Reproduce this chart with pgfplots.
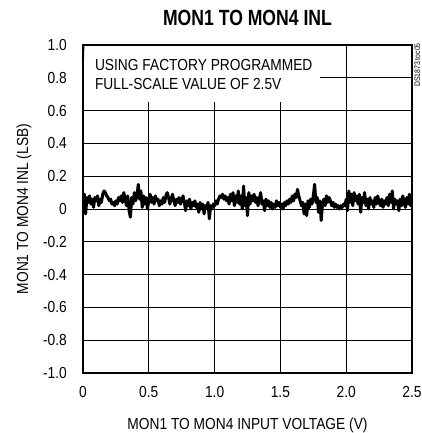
\documentclass[border=0pt]{standalone}
\usepackage{fontspec}
\setmainfont{Liberation Sans}[FakeStretch=0.86]
\newfontfamily\titlefont{Liberation Sans}[FakeStretch=0.8]
\usepackage{pgfplots}
\pgfplotsset{compat=1.18}
\newcommand\lblfont{\fontsize{16bp}{19bp}\selectfont}
\begin{document}
\begin{tikzpicture}
\begin{axis}[
  width=329bp, height=328bp, scale only axis,
  xmin=0, xmax=2.5, ymin=-1, ymax=1,
  xtick={0,0.5,1,1.5,2,2.5},
  xticklabels={0,0.5,1.0,1.5,2.0,2.5},
  ytick={-1,-0.8,-0.6,-0.4,-0.2,0,0.2,0.4,0.6,0.8,1},
  yticklabels={-1.0,-0.8,-0.6,-0.4,-0.2,0,0.2,0.4,0.6,0.8,1.0},
  grid=major, major grid style={black, line width=0.8bp},
  axis line style={line width=2.2bp},
  major tick length=4bp, tick style={black, line width=0.8bp},
  tick label style={font=\lblfont, inner sep=0pt},
  xticklabel style={anchor=base, yshift=-24bp},
  yticklabel style={anchor=east, xshift=-16bp},
]
\fill[white] ([xshift=1.1bp]axis cs:0,0.65) rectangle ([yshift=-1.1bp]axis cs:1.8,1);
\draw[black, line width=0.8bp] (axis cs:0.5,1) -- ++(0,-5bp) (axis cs:1,1) -- ++(0,-5bp) (axis cs:1.5,1) -- ++(0,-5bp) (axis cs:0,0.8) -- ++(5bp,0);
\addplot[black, line width=3bp, line join=round] coordinates {
(0.00,0.02)(0.01,0.09)(0.02,-0.03)(0.03,0.07)(0.04,0.04)(0.05,0.08)(0.06,0.03)(0.07,0.06)(0.08,0.01)(0.09,0.07)
(0.10,0.05)(0.11,0.08)(0.12,0.02)(0.13,0.06)(0.14,0.04)(0.15,0.09)(0.16,0.11)(0.17,0.10)(0.18,0.08)(0.19,0.07)
(0.20,0.05)(0.21,0.06)(0.22,0.03)(0.23,0.04)(0.24,0.02)(0.25,0.05)(0.26,0.03)(0.27,0.07)(0.28,0.05)(0.29,0.08)
(0.30,0.04)(0.31,0.10)(0.32,0.06)(0.33,0.02)(0.34,0.08)(0.35,-0.01)(0.36,-0.05)(0.37,0.07)(0.38,0.03)(0.39,0.10)
(0.40,0.05)(0.41,0.08)(0.42,0.15)(0.43,0.06)(0.44,0.11)(0.45,0.01)(0.46,0.08)(0.47,0.03)(0.48,0.07)(0.49,0.00)
(0.50,0.05)(0.51,0.09)(0.52,0.04)(0.53,0.07)(0.54,0.03)(0.55,0.08)(0.56,0.05)(0.57,0.06)(0.58,0.02)(0.59,0.05)
(0.60,0.03)(0.61,0.07)(0.62,0.04)(0.63,0.08)(0.64,0.10)(0.65,0.07)(0.66,0.03)(0.67,0.06)(0.68,0.09)(0.69,0.05)
(0.70,0.02)(0.71,0.06)(0.72,0.04)(0.73,0.07)(0.74,0.03)(0.75,0.05)(0.76,0.08)(0.77,0.04)(0.78,-0.01)(0.79,0.05)
(0.80,0.02)(0.81,0.06)(0.82,0.00)(0.83,0.04)(0.84,0.02)(0.85,0.05)(0.86,0.01)(0.87,0.03)(0.88,-0.02)(0.89,0.04)
(0.90,0.00)(0.91,0.03)(0.92,-0.03)(0.93,0.02)(0.94,0.01)(0.95,0.04)(0.96,-0.06)(0.97,0.02)(0.98,0.00)(0.99,0.03)
(1.00,0.02)(1.01,0.05)(1.02,0.03)(1.03,0.06)(1.04,0.08)(1.05,0.07)(1.06,0.09)(1.07,0.06)(1.08,0.08)(1.09,0.05)
(1.10,0.07)(1.11,0.03)(1.12,0.09)(1.13,0.05)(1.14,0.10)(1.15,0.02)(1.16,0.08)(1.17,0.04)(1.18,0.11)(1.19,0.03)
(1.20,0.08)(1.21,0.00)(1.22,0.14)(1.23,0.02)(1.24,0.07)(1.25,-0.04)(1.26,0.10)(1.27,0.03)(1.28,0.08)(1.29,0.05)
(1.30,0.09)(1.31,0.04)(1.32,0.07)(1.33,0.02)(1.34,0.06)(1.35,0.10)(1.36,0.03)(1.37,0.05)(1.38,-0.01)(1.39,0.06)
(1.40,0.02)(1.41,0.05)(1.42,0.01)(1.43,0.04)(1.44,0.00)(1.45,0.03)(1.46,0.01)(1.47,0.05)(1.48,0.02)(1.49,0.04)
(1.50,0.01)(1.51,0.03)(1.52,0.00)(1.53,0.04)(1.54,0.02)(1.55,0.05)(1.56,0.03)(1.57,0.06)(1.58,0.04)(1.59,0.08)
(1.60,0.05)(1.61,0.09)(1.62,0.07)(1.63,0.12)(1.64,0.08)(1.65,0.05)(1.66,0.02)(1.67,0.04)(1.68,-0.03)(1.69,0.03)
(1.70,-0.04)(1.71,0.05)(1.72,0.01)(1.73,0.06)(1.74,0.03)(1.75,0.08)(1.76,0.15)(1.77,0.04)(1.78,0.07)(1.79,-0.02)
(1.80,0.05)(1.81,-0.07)(1.82,0.03)(1.83,0.06)(1.84,0.02)(1.85,0.08)(1.86,0.04)(1.87,0.07)(1.88,0.05)(1.89,0.02)
(1.90,0.04)(1.91,0.01)(1.92,0.03)(1.93,0.01)(1.94,0.02)(1.95,0.00)(1.96,0.02)(1.97,0.01)(1.98,0.03)(1.99,0.02)
(2.00,0.06)(2.01,-0.01)(2.02,0.11)(2.03,0.04)(2.04,0.09)(2.05,0.02)(2.06,0.10)(2.07,0.05)(2.08,0.08)(2.09,0.03)
(2.10,0.09)(2.11,-0.02)(2.12,0.07)(2.13,0.04)(2.14,0.10)(2.15,0.02)(2.16,0.06)(2.17,0.00)(2.18,0.07)(2.19,0.03)
(2.20,0.05)(2.21,0.01)(2.22,0.07)(2.23,0.03)(2.24,0.08)(2.25,0.04)(2.26,0.02)(2.27,0.06)(2.28,0.01)(2.29,0.05)
(2.30,0.03)(2.31,0.07)(2.32,0.02)(2.33,0.09)(2.34,0.04)(2.35,0.11)(2.36,0.00)(2.37,0.06)(2.38,0.03)(2.39,0.05)
(2.40,-0.01)(2.41,0.06)(2.42,0.02)(2.43,0.08)(2.44,0.04)(2.45,0.01)(2.46,0.07)(2.47,0.03)(2.48,0.09)(2.49,0.02)
(2.50,0.06)
};
\node[anchor=west, align=left, font=\lblfont, inner sep=0pt] at (axis cs:0.09,0.818) {USING FACTORY PROGRAMMED\\FULL-SCALE VALUE OF 2.5V};
\end{axis}
\node[font=\titlefont\bfseries\fontsize{22bp}{26bp}\selectfont, anchor=base] at ([yshift=19bp]current axis.north) {MON1 TO MON4 INL};
\node[anchor=base, font=\lblfont] at ([yshift=-56bp]current axis.south) {MON1 TO MON4 INPUT VOLTAGE (V)};
\node[rotate=90, anchor=base, font=\lblfont] at ([xshift=-55bp]current axis.west) {MON1 TO MON4 INL (LSB)};
\node[rotate=90, anchor=base east, font=\fontsize{8bp}{9bp}\selectfont, inner sep=0pt] at ([xshift=8bp,yshift=2bp]current axis.north east) {DS1873 toc05};
\pgfresetboundingbox
\path ([shift={(-83bp,-60bp)}]current axis.south west) rectangle ([shift={(10bp,45bp)}]current axis.north east);
\end{tikzpicture}
\end{document}
